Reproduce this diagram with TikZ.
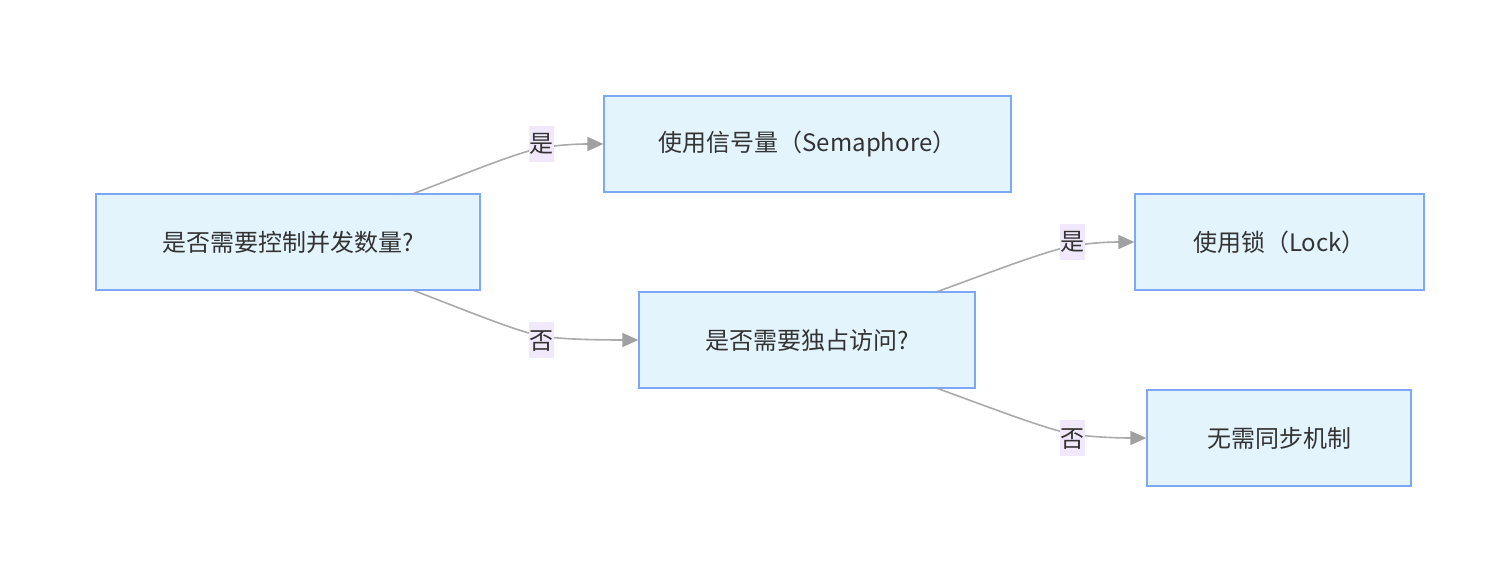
\documentclass[tikz,border=0pt]{standalone}
\usepackage{fontspec}
\setmainfont{Noto Sans CJK SC}
\usetikzlibrary{arrows.meta,positioning}
\definecolor{boxfill}{HTML}{E3F4FD}
\definecolor{boxline}{HTML}{7DA8F5}
\definecolor{edgeline}{HTML}{AAAAAA}
\definecolor{tipfill}{HTML}{A0A0A0}
\definecolor{lblfill}{HTML}{F1E8FC}
\definecolor{txt}{HTML}{333333}
\tikzset{
  flowbox/.style={draw=boxline, line width=1.3pt, fill=boxfill, rectangle,
    minimum height=96pt, inner sep=0pt, text=txt,
    font=\fontsize{24}{28}\selectfont},
  flowedge/.style={draw=edgeline, line width=1.6pt,
    -{Triangle[length=16pt,width=14pt,fill=tipfill,color=tipfill]}},
  edgelabel/.style={fill=lblfill, text=txt, inner xsep=0.5pt, inner ysep=0pt,
    text height=27pt, text depth=9pt, font=\fontsize{24}{28}\selectfont}
}
\begin{document}
\begin{tikzpicture}[x=1pt,y=-1pt]
  \useasboundingbox (0,0) rectangle (1498,561);

  % decision and outcome boxes
  \node[flowbox, minimum width=384pt] (q1) at (288,242) {是否需要控制并发数量?};
  \node[flowbox, minimum width=407pt] (sem) at (807.5,144) {使用信号量（Semaphore）};
  \node[flowbox, minimum width=336pt] (q2) at (807,340) {是否需要独占访问?};
  \node[flowbox, minimum width=289pt] (lock) at (1279.5,242) {使用锁（Lock）};
  \node[flowbox, minimum width=264pt] (none) at (1279,438) {无需同步机制};

  % curved connectors running through their labels
  \draw[flowedge] ([xshift=126pt]q1.north) .. controls (460,176) and (515,153) .. (541,148)
    .. controls (560,144.5) and (580,144) .. (sem.west);
  \draw[flowedge] ([xshift=126pt]q1.south) .. controls (460,308) and (515,331) .. (541,336)
    .. controls (562,339.5) and (600,340) .. (q2.west);
  \draw[flowedge] ([xshift=131pt]q2.north) .. controls (986,274) and (1045,251) .. (1072,246)
    .. controls (1092,242.5) and (1112,242) .. (lock.west);
  \draw[flowedge] ([xshift=131pt]q2.south) .. controls (986,406) and (1045,429) .. (1072,434)
    .. controls (1094,437.5) and (1122,438) .. (none.west);

  \node[edgelabel] (l1) at (541,144) {是};
  \node[edgelabel] (l2) at (541,340) {否};
  \node[edgelabel] (l3) at (1072,242) {是};
  \node[edgelabel] (l4) at (1072,438) {否};
\end{tikzpicture}
\end{document}
